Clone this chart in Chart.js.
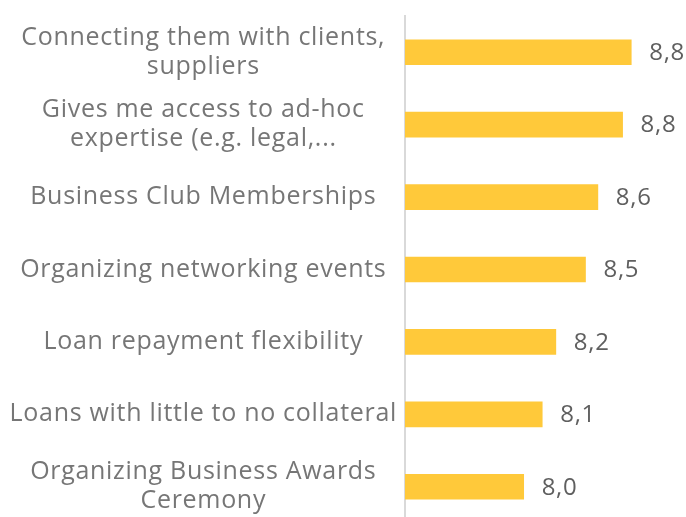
<!DOCTYPE html>
<html>
<head>
<meta charset="utf-8">
<script src="https://cdn.jsdelivr.net/npm/chart.js@4"></script>
<style>
  html, body { margin: 0; padding: 0; background: #fff; overflow: hidden; }
  #wrap { width: 686px; height: 523px; position: relative; }
</style>
</head>
<body>
<div id="wrap"><canvas id="bar-chart"></canvas></div>
<script>
const categories = [
  ['Connecting them with clients,', 'suppliers'],
  ['Gives me access to ad-hoc', 'expertise (e.g. legal,...'],
  'Business Club Memberships',
  'Organizing networking events',
  'Loan repayment flexibility',
  'Loans with little to no collateral',
  ['Organizing Business Awards', 'Ceremony']
];
const scores = [8.83, 8.76, 8.56, 8.46, 8.22, 8.11, 7.96];

const AXIS_RIGHT = 405;
const FONT = '"Open Sans", "Noto Sans", sans-serif';
const SPACING = '0.7px';
const fmt = v => v.toFixed(1).replace('.', ',');

// canvas resets its state on resize, so spacing is set again before layout and draw
const wideText = {
  id: 'wideText',
  beforeUpdate(chart) { chart.ctx.letterSpacing = SPACING; },
  beforeDraw(chart) { chart.ctx.letterSpacing = SPACING; }
};

const valueLabels = {
  id: 'valueLabels',
  afterDatasetsDraw(chart) {
    const ctx = chart.ctx;
    const meta = chart.getDatasetMeta(0);
    ctx.save();
    ctx.font = '24px ' + FONT;
    ctx.fillStyle = '#5f5f5f';
    ctx.textAlign = 'left';
    ctx.textBaseline = 'middle';
    meta.data.forEach((bar, i) => {
      ctx.fillText(fmt(scores[i]), bar.x + 18, bar.y + 1);
    });
    ctx.restore();
  }
};

const ctx = document.getElementById('bar-chart').getContext('2d');
new Chart(ctx, {
  type: 'bar',
  data: {
    labels: categories,
    datasets: [{
      data: scores,
      backgroundColor: '#FFC93A',
      borderWidth: 0,
      barThickness: 25
    }]
  },
  plugins: [wideText, valueLabels],
  options: {
    indexAxis: 'y',
    responsive: true,
    maintainAspectRatio: false,
    animation: false,
    layout: { padding: { top: 16, right: 9, left: 0, bottom: 0 } },
    plugins: {
      legend: { display: false },
      tooltip: { enabled: false }
    },
    scales: {
      x: { display: false, min: 7, max: 9.2 },
      y: {
        grid: { display: false, drawTicks: false },
        border: { display: true, color: '#d9d9d9', width: 2 },
        afterFit: s => {
          s.width = AXIS_RIGHT;
          s.paddingTop = 0;
          s.paddingBottom = 0;
        },
        ticks: {
          autoSkip: false,
          crossAlign: 'center',
          padding: 8,
          color: '#767676',
          font: { family: FONT, size: 25, lineHeight: 1.16 }
        }
      }
    }
  }
});
</script>
</body>
</html>
